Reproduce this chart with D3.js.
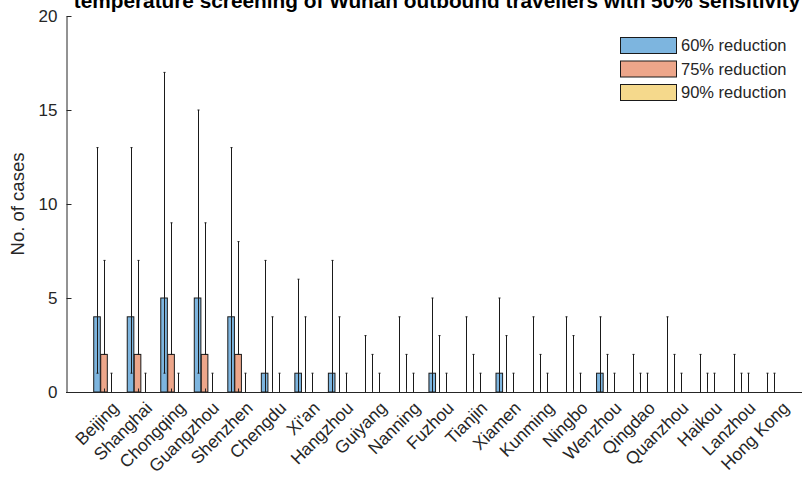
<!DOCTYPE html>
<html><head><meta charset="utf-8">
<script src="https://cdn.jsdelivr.net/npm/d3@7"></script>
<style>body{margin:0;background:#fff}svg{display:block;font-family:"Liberation Sans",Arial,sans-serif}</style>
</head><body><svg id="c" width="802" height="479"></svg>
<script>
const cities = ["Beijing","Shanghai","Chongqing","Guangzhou","Shenzhen","Chengdu","Xi'an","Hangzhou","Guiyang","Nanning","Fuzhou","Tianjin","Xiamen","Kunming","Ningbo","Wenzhou","Qingdao","Quanzhou","Haikou","Lanzhou","Hong Kong"];
const v60  = [4,4,5,5,4,1,1,1,0,0,1,0,1,0,0,1,0,0,0,0,0];
const lo60 = [1,1,1,1,0,0,0,0,0,0,0,0,0,0,0,0,0,0,0,0,0];
const hi60 = [13,13,17,15,13,7,6,7,3,4,5,4,5,4,4,4,2,4,2,2,1];
const v75  = [2,2,2,2,2,0,0,0,0,0,0,0,0,0,0,0,0,0,0,0,0];
const lo75 = [2,2,2,2,2,0,0,0,0,0,0,0,0,0,0,0,0,0,0,0,0];
const hi75 = [7,7,9,9,8,4,4,4,2,2,3,2,3,2,3,2,1,2,1,1,1];
const v90  = [0,0,0,0,0,0,0,0,0,0,0,0,0,0,0,0,0,0,0,0,0];
const lo90 = [0,0,0,0,0,0,0,0,0,0,0,0,0,0,0,0,0,0,0,0,0];
const hi90 = [1,1,1,1,1,1,1,1,1,1,1,1,1,1,1,1,1,1,1,1,0];
const seriesNames = ["60% reduction","75% reduction","90% reduction"];
const colors = ["#7DB5DF","#EDA68A","#F5D98C"];
const yTicks = [0,5,10,15,20];
const titleText = "temperature screening of Wuhan outbound travellers with 50% sensitivity";

const series = [
  {v:v60, lo:lo60, hi:hi60},
  {v:v75, lo:lo75, hi:hi75},
  {v:v90, lo:lo90, hi:hi90}
];

const svg = d3.select("#c");
const axisColor = "#262626";
const x = d3.scaleLinear().domain([-1.134, 21.0]).range([66, 808]);
const y = d3.scaleLinear().domain([0, 20]).range([392, 16]);
const barW = 6.6, off = 7.0;

// bars
series.forEach((s, k) => {
  const g = svg.append("g");
  g.selectAll("rect").data(s.v.map((v,i)=>({v,i}))).join("rect")
    .filter(d => d.v > 0)
    .attr("x", d => x(d.i) + (k-1)*off - barW/2)
    .attr("y", d => y(d.v))
    .attr("width", barW)
    .attr("height", d => y(0) - y(d.v))
    .attr("fill", colors[k])
    .attr("stroke", "#1a1a1a").attr("stroke-width", 1);
});
// error bars
series.forEach((s, k) => {
  const g = svg.append("g").attr("stroke", "#1a1a1a").attr("stroke-width", 1);
  s.v.forEach((v, i) => {
    const cx = Math.round(x(i) + (k-1)*off) + 0.5;
    if (s.hi[i] > s.lo[i]) {
      g.append("line").attr("x1", cx).attr("x2", cx).attr("y1", y(s.lo[i])).attr("y2", y(s.hi[i]));
      g.append("line").attr("x1", cx-1).attr("x2", cx+1).attr("y1", y(s.hi[i])).attr("y2", y(s.hi[i]));
      if (s.lo[i] > 0) g.append("line").attr("x1", cx-1).attr("x2", cx+1).attr("y1", y(s.lo[i])).attr("y2", y(s.lo[i]));
    }
  });
});

// y axis
const yAxis = d3.axisLeft(y).tickValues(yTicks).tickSizeInner(-5).tickSizeOuter(0).tickPadding(9);
const ya = svg.append("g").attr("transform", "translate(66.5,0)").call(yAxis);
ya.select(".domain").attr("stroke", axisColor);
ya.selectAll(".tick line").attr("stroke", axisColor);
ya.selectAll("text").attr("fill", axisColor).attr("font-size", 17).attr("font-family", '"Liberation Sans",Arial,sans-serif');

// x axis
const xa = svg.append("g").attr("transform", "translate(0,392.5)");
xa.append("line").attr("x1", 66).attr("x2", 808).attr("stroke", axisColor);
xa.selectAll(".tk").data(cities).join("line")
  .attr("x1", (d,i)=>Math.round(x(i))+0.5).attr("x2", (d,i)=>Math.round(x(i))+0.5)
  .attr("y1", 0).attr("y2", -4).attr("stroke", axisColor);
xa.selectAll("text").data(cities).join("text")
  .attr("transform", (d,i)=>`translate(${x(i)+7},${8}) rotate(-45)`)
  .attr("text-anchor", "end").attr("dy", "0.7em")
  .attr("font-size", 17.5).attr("fill", axisColor)
  .text(d=>d);

// y label
svg.append("text").attr("transform", "translate(24,204) rotate(-90)")
  .attr("text-anchor", "middle").attr("font-size", 18.5).attr("fill", axisColor)
  .text("No. of cases");

// title
const t = svg.append("text").attr("x", 437).attr("y", 8).attr("text-anchor", "middle")
  .attr("font-weight", "bold").attr("font-size", 16).attr("fill", "#000").text(titleText);
const w = t.node().getComputedTextLength();
t.attr("font-size", 16 * 727 / w);

// legend
const lg = svg.append("g");
seriesNames.forEach((n, k) => {
  const yy = 37.5 + k*23.5;
  lg.append("rect").attr("x", 620.5).attr("y", yy).attr("width", 56).attr("height", 16)
    .attr("fill", colors[k]).attr("stroke", "#1a1a1a");
  lg.append("text").attr("x", 681).attr("y", yy + 8).attr("dy", "0.35em")
    .attr("font-size", 16.5).attr("fill", axisColor).text(n);
});
</script></body></html>
